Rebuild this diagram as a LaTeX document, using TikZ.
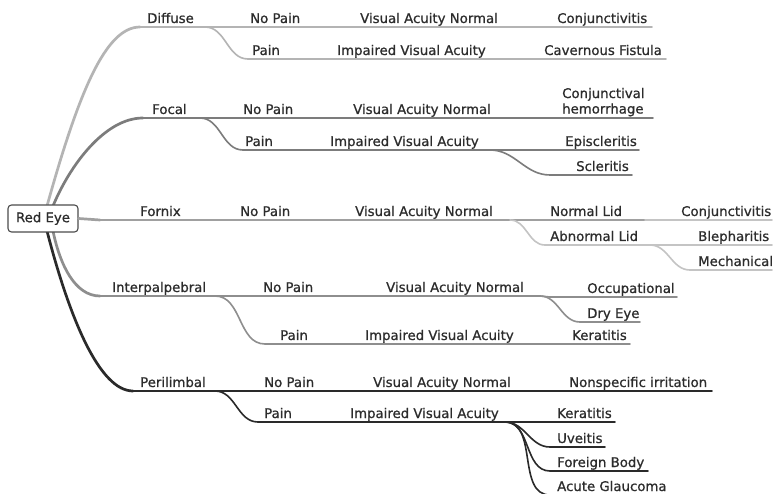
\documentclass[tikz,border=0pt]{standalone}
\usepackage{fontspec}
\setmainfont{DejaVu Sans}
\newfontfamily\mapfont[BoldFont={DejaVu Sans},BoldFeatures={FakeBold=0.8}]{DejaVu Sans}
\definecolor{cD}{HTML}{B4B4B4}
\definecolor{cF}{HTML}{7C7C7C}
\definecolor{cX}{HTML}{A0A0A0}
\definecolor{cXl}{HTML}{C4C4C4}
\definecolor{cI}{HTML}{8E8E8E}
\definecolor{cP}{HTML}{2A2A2A}
\definecolor{txt}{HTML}{2C2C2C}
\newcommand\mm[7]{% name, xs, xe, y, textx, text, style
  \coordinate (#1s) at (#2,#4);
  \coordinate (#1e) at (#3,#4);
  \draw[#7] (#1s) -- (#1e);
  \node[lbl] (#1) at (#5,#4-4) {#6};}
\newcommand\cn[3]{\draw[#3] (#1e) to[out=0,in=180] (#2s);}
\begin{document}
\begin{tikzpicture}[x=1pt,y=-1pt,line cap=round,
  lbl/.style={anchor=base west,inner sep=0pt,text=txt,font=\mapfont\bfseries\fontsize{13.3}{15.5}\selectfont},
  rootbox/.style={draw=black!70,line width=1.1pt,rounded corners=3.5pt,fill=white,
    minimum width=70pt,minimum height=27pt,inner sep=0pt,text=txt,font=\mapfont\bfseries\fontsize{13.3}{15.5}\selectfont},
  top/.style={line width=2.7pt},
  l1/.style={line width=2.1pt},
  l2/.style={line width=1.6pt}]
\useasboundingbox (0,0) rectangle (774,494);
\clip (0,0) rectangle (774,494);
\fill[white] (0,0) rectangle (774,494);

% ---------- Diffuse ----------
\mm{D}{140}{205}{27}{147}{Diffuse}{cD,l1}
\mm{Da}{240}{320}{27}{250}{No Pain}{cD,l2}
\mm{Daa}{330}{505}{27}{360}{Visual Acuity Normal}{cD,l2}
\mm{Daaa}{515}{652}{27}{557}{Conjunctivitis}{cD,l2}
\mm{Db}{248}{320}{59}{252}{Pain}{cD,l2}
\mm{Dba}{330}{492}{59}{337}{Impaired Visual Acuity}{cD,l2}
\mm{Dbaa}{500}{666}{59}{544}{Cavernous Fistula}{cD,l2}
\cn{D}{Da}{cD,l2}\cn{Da}{Daa}{cD,l2}\cn{Daa}{Daaa}{cD,l2}
\cn{D}{Db}{cD,l2}\cn{Db}{Dba}{cD,l2}\cn{Dba}{Dbaa}{cD,l2}

% ---------- Focal ----------
\mm{F}{143}{200}{118}{152}{Focal}{cF,l1}
\mm{Fa}{235}{320}{118}{243}{No Pain}{cF,l2}
\mm{Faa}{330}{495}{118}{353}{Visual Acuity Normal}{cF,l2}
\coordinate (Faaas) at (505,118);
\coordinate (Faaae) at (653,118);
\draw[cF,l2] (Faaas) -- (Faaae);
\node[lbl,anchor=south west,align=left] (Faaa) at (562,116.5) {Conjunctival\\hemorrhage};
\mm{Fb}{243}{320}{150}{245}{Pain}{cF,l2}
\mm{Fba}{325}{490}{150}{330}{Impaired Visual Acuity}{cF,l2}
\mm{Fbaa}{500}{639}{150}{565}{Episcleritis}{cF,l2}
\mm{Fbab}{550}{632}{175}{576}{Scleritis}{cF,l2}
\cn{F}{Fa}{cF,l2}\cn{Fa}{Faa}{cF,l2}\cn{Faa}{Faaa}{cF,l2}
\cn{F}{Fb}{cF,l2}\cn{Fb}{Fba}{cF,l2}\cn{Fba}{Fbaa}{cF,l2}\cn{Fba}{Fbab}{cF,l2}

% ---------- Fornix ----------
\mm{X}{100}{215}{220}{140}{Fornix}{cX,l1}
\mm{Xa}{225}{330}{220}{240}{No Pain}{cX,l2}
\mm{Xaa}{340}{510}{220}{355}{Visual Acuity Normal}{cX,l2}
\mm{Xaaa}{520}{645}{220}{550}{Normal Lid}{cX,l2}
\mm{Xaaaa}{655}{772}{220}{681}{Conjunctivitis}{cXl,l2}
\mm{Xaab}{545}{650}{245}{550}{Abnormal Lid}{cXl,l2}
\mm{Xaaba}{660}{772}{245}{698}{Blepharitis}{cXl,l2}
\mm{Xaabb}{690}{772}{270}{698}{Mechanical}{cXl,l2}
\cn{X}{Xa}{cX,l2}\cn{Xa}{Xaa}{cX,l2}\cn{Xaa}{Xaaa}{cX,l2}\cn{Xaaa}{Xaaaa}{cXl,l2}
\cn{Xaa}{Xaab}{cXl,l2}\cn{Xaab}{Xaaba}{cXl,l2}\cn{Xaab}{Xaabb}{cXl,l2}

% ---------- Interpalpebral ----------
\mm{I}{100}{215}{296}{112}{Interpalpebral}{cI,l1}
\mm{Ia}{225}{355}{296}{263}{No Pain}{cI,l2}
\mm{Iaa}{365}{540}{296}{386}{Visual Acuity Normal}{cI,l2}
\mm{Iaaa}{550}{677}{297}{587}{Occupational}{cI,l2}
\mm{Iaab}{580}{640}{322}{587}{Dry Eye}{cI,l2}
\mm{Ib}{265}{340}{344}{280}{Pain}{cI,l2}
\mm{Iba}{350}{540}{344}{365}{Impaired Visual Acuity}{cI,l2}
\mm{Ibaa}{550}{630}{344}{572}{Keratitis}{cI,l2}
\cn{I}{Ia}{cI,l2}\cn{Ia}{Iaa}{cI,l2}\cn{Iaa}{Iaaa}{cI,l2}\cn{Iaa}{Iaab}{cI,l2}
\cn{I}{Ib}{cI,l2}\cn{Ib}{Iba}{cI,l2}\cn{Iba}{Ibaa}{cI,l2}

% ---------- Perilimbal ----------
\mm{P}{133}{215}{391}{140}{Perilimbal}{cP,l1}
\mm{Pa}{225}{355}{391}{264}{No Pain}{cP,l2}
\mm{Paa}{365}{530}{391}{373}{Visual Acuity Normal}{cP,l2}
\mm{Paaa}{540}{712}{391}{569}{Nonspecific irritation}{cP,l2}
\mm{Pb}{258}{340}{422}{264}{Pain}{cP,l2}
\mm{Pba}{345}{505}{422}{350}{Impaired Visual Acuity}{cP,l2}
\mm{Pbaa}{515}{615}{422}{557}{Keratitis}{cP,l2}
\mm{Pbab}{550}{605}{447}{557}{Uveitis}{cP,l2}
\mm{Pbac}{550}{648}{471}{557}{Foreign Body}{cP,l2}
\mm{Pbad}{550}{700}{495}{557}{Acute Glaucoma}{cP,l2}
\cn{P}{Pa}{cP,l2}\cn{Pa}{Paa}{cP,l2}\cn{Paa}{Paaa}{cP,l2}
\cn{P}{Pb}{cP,l2}\cn{Pb}{Pba}{cP,l2}\cn{Pba}{Pbaa}{cP,l2}
\cn{Pba}{Pbab}{cP,l2}\cn{Pba}{Pbac}{cP,l2}\cn{Pba}{Pbad}{cP,l2}

% ---------- root ----------
\coordinate (rD) at (47,206);
\coordinate (rF) at (53,206);
\coordinate (rI) at (53,231);
\coordinate (rP) at (47,231);
\draw[cD,top] (rD) .. controls (78,95) and (105,27) .. (Ds);
\draw[cF,top] (rF) .. controls (70,165) and (105,118) .. (Fs);
\draw[cI,top] (rI) .. controls (60,265) and (75,296) .. (Is);
\draw[cP,top] (rP) .. controls (70,320) and (100,391) .. (Ps);
\node[rootbox] (root) at (43,218.5) {Red Eye};
\draw[cX,top] (root.east) -- (Xs);
\end{tikzpicture}
\end{document}
